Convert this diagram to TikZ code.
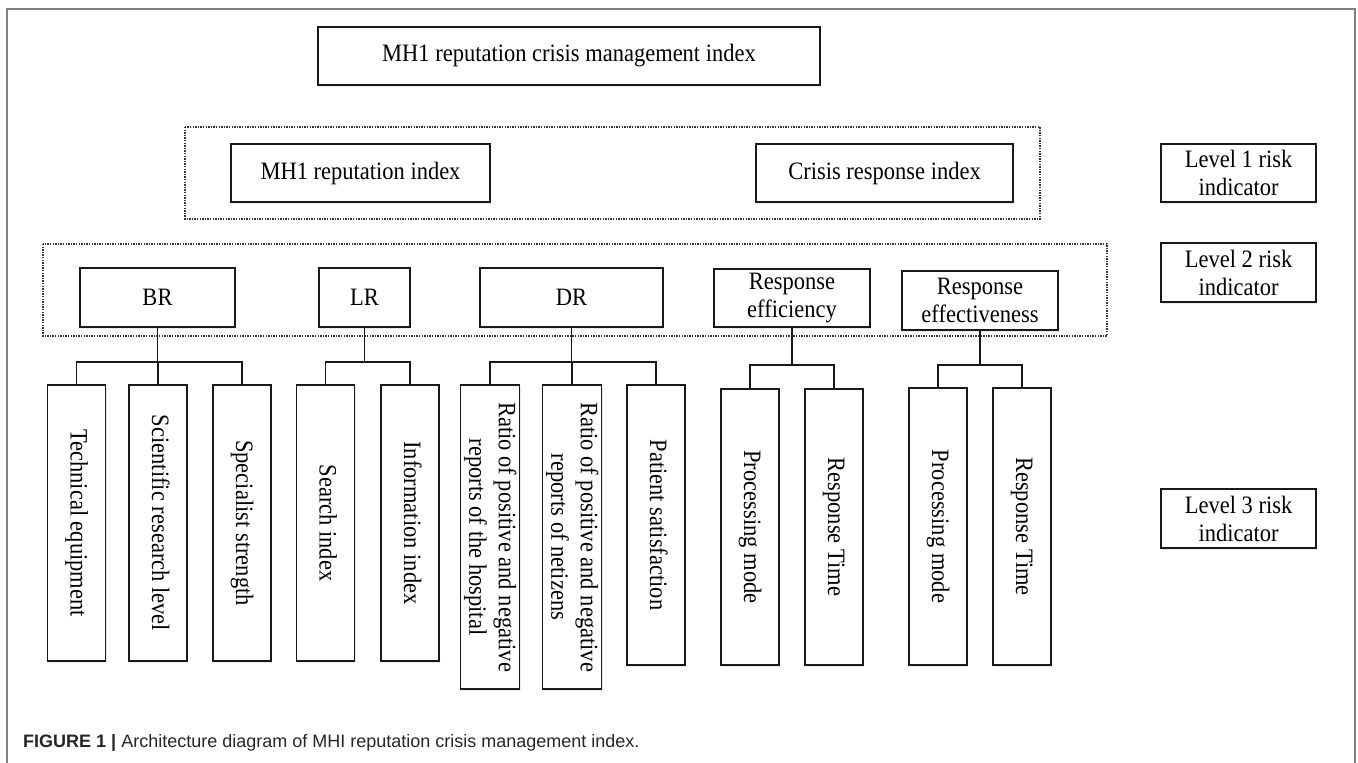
\documentclass[tikz,border=0pt]{standalone}
\usepackage{fontspec}
\setmainfont{Liberation Serif}[FakeStretch=0.9]
\newfontfamily\capfont{Liberation Sans}
\usetikzlibrary{shadows}
\newcommand\vtxt[1]{\rotatebox{-90}{\begin{tabular}{@{}c@{}}#1\end{tabular}}}
\tikzset{
  box/.style={draw=black!90, line width=1.4pt, inner sep=0pt, outer sep=0pt,
    align=center, fill=white, font=\fontsize{25}{28}\selectfont,
    drop shadow={shadow xshift=1.2pt, shadow yshift=-1.8pt, fill=blue!40!gray, opacity=0.12}},
  leaf/.style={box, minimum width=58pt, font=\fontsize{25}{29.5}\selectfont},
  grp/.style={draw=black!80, line width=1.1pt, dash pattern=on 1.4pt off 1.2pt},
  conn/.style={draw=black!90, line width=1.4pt},
  frame/.style={draw=black!50, line width=1.5pt},
}
\begin{document}
\begin{tikzpicture}[x=1pt,y=-1pt]
\useasboundingbox (0,0) rectangle (1358,763);
\draw[frame] (7,780) -- (7,9) -- (1355,9) -- (1355,780);

% group frames
\draw[grp] (185,127) rectangle (1040,219);
\draw[grp] (43,244) rectangle (1107,336);

% top
\node[box, minimum width=502pt, minimum height=58pt] (title) at (569,56) {MH1 reputation crisis management index};

% level 1
\node[box, minimum width=259pt, minimum height=58pt] (mhi) at (360.5,173) {MH1 reputation index};
\node[box, minimum width=257pt, minimum height=58pt] (cri) at (884.5,173) {Crisis response index};

% legend
\node[box, minimum width=155pt, minimum height=58pt] (lv1) at (1238.5,173) {Level 1 risk\\indicator};
\node[box, minimum width=155pt, minimum height=59pt] (lv2) at (1238.5,272.5) {Level 2 risk\\indicator};
\node[box, minimum width=155pt, minimum height=59pt] (lv3) at (1238.5,518.5) {Level 3 risk\\indicator};

% level 2
\node[box, minimum width=155pt, minimum height=59pt] (br) at (157.5,297.5) {BR};
\node[box, minimum width=91pt, minimum height=59pt] (lr) at (364.5,297.5) {LR};
\node[box, minimum width=183pt, minimum height=59pt] (dr) at (571.5,297.5) {DR};
\node[box, minimum width=156pt, minimum height=58pt] (ref) at (792,298) {Response\\efficiency};
\node[box, minimum width=156pt, minimum height=59pt] (rev) at (980,300.5) {Response\\effectiveness};

% level 3
\node[leaf, minimum height=276pt] (tech) at (76.5,523) {\vtxt{Technical equipment}};
\node[leaf, minimum height=276pt] (sci) at (158,523) {\vtxt{Scientific research level}};
\node[leaf, minimum height=276pt] (spec) at (242,523) {\vtxt{Specialist strength}};
\node[leaf, minimum height=276pt] (srch) at (325.5,523) {\vtxt{Search index}};
\node[leaf, minimum height=276pt] (info) at (410,523) {\vtxt{Information index}};
\node[leaf, minimum height=304pt] (rat1) at (490,537) {\vtxt{Ratio of positive and negative\\reports of the hospital}};
\node[leaf, minimum height=304pt] (rat2) at (572,537) {\vtxt{Ratio of positive and negative\\reports of netizens}};
\node[leaf, minimum height=280pt] (pat) at (656,525) {\vtxt{Patient satisfaction}};
\node[leaf, minimum height=276pt] (pm1) at (750,527) {\vtxt{Processing mode}};
\node[leaf, minimum height=276pt] (rt1) at (834,527) {\vtxt{Response Time}};
\node[leaf, minimum height=277pt] (pm2) at (938,526.5) {\vtxt{Processing mode}};
\node[leaf, minimum height=277pt] (rt2) at (1022,526.5) {\vtxt{Response Time}};

% junction levels
\coordinate (hA) at (0,362);
\coordinate (hB) at (0,365);

% connectors
\draw[conn] (br.south) -- (br.south |- hA);
\draw[conn] (tech.north) |- (spec.north |- hA) -- (spec.north);
\draw[conn] (sci.north) -- (sci.north |- hA);

\draw[conn] (lr.south) -- (lr.south |- hA);
\draw[conn] (srch.north) |- (info.north |- hA) -- (info.north);

\draw[conn] (dr.south) -- (dr.south |- hA);
\draw[conn] (rat1.north) |- (pat.north |- hA) -- (pat.north);
\draw[conn] (rat2.north) -- (rat2.north |- hA);

\draw[conn] (ref.south) -- (ref.south |- hB);
\draw[conn] (pm1.north) |- (rt1.north |- hB) -- (rt1.north);

\draw[conn] (rev.south) -- (rev.south |- hB);
\draw[conn] (pm2.north) |- (rt2.north |- hB) -- (rt2.north);

% caption
\node[anchor=west, inner sep=0pt, text=black!85, font=\capfont\fontsize{18}{20}\selectfont] (cap) at (23,743)
  {\textbf{FIGURE 1 |} Architecture diagram of MHI reputation crisis management index.};
\end{tikzpicture}
\end{document}
